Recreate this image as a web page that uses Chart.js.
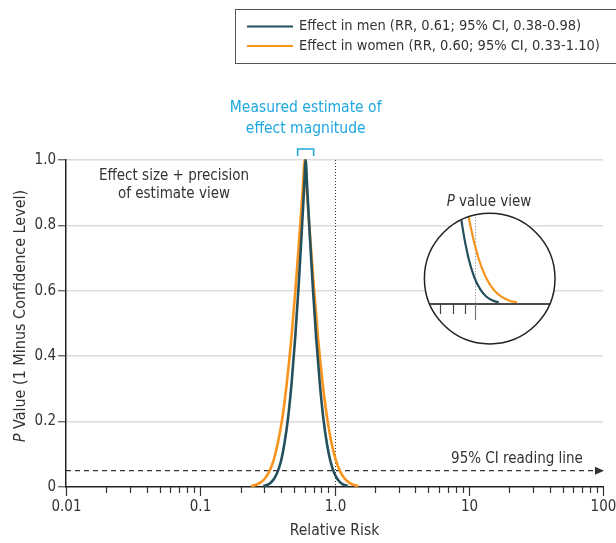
<!DOCTYPE html>
<html>
<head>
<meta charset="utf-8">
<script src="https://cdn.jsdelivr.net/npm/chart.js@4.4.1/dist/chart.umd.min.js"></script>
<style>
  html, body { margin: 0; padding: 0; background: #fff; }
  #wrap { position: relative; width: 616px; height: 543px; overflow: hidden; }
  #main { position: absolute; left: 0; top: 0; }
  #inset { position: absolute; left: 422px; top: 211px; }
</style>
</head>
<body>
<div id="wrap">
  <canvas id="main" width="616" height="543"></canvas>
  <canvas id="inset" width="136" height="136"></canvas>
</div>
<script>
// relative risk (x) and P value (y)
const menRR = [0.295, 0.314, 0.333, 0.354, 0.376, 0.400, 0.424, 0.451, 0.479, 0.509, 0.541, 0.574, 0.595, 0.610,
  0.625, 0.648, 0.688, 0.731, 0.777, 0.825, 0.877, 0.931, 0.989, 1.051, 1.116, 1.186, 1.260];
const menP = [0.0027, 0.0060, 0.0124, 0.0244, 0.0455, 0.0801, 0.1336, 0.2113, 0.3173, 0.4533, 0.6171, 0.8026, 0.9203, 1.0,
  0.9203, 0.8026, 0.6171, 0.4533, 0.3173, 0.2113, 0.1336, 0.0801, 0.0455, 0.0244, 0.0124, 0.0060, 0.0027];
const womenRR = [0.239, 0.258, 0.278, 0.301, 0.325, 0.351, 0.378, 0.409, 0.441, 0.477, 0.515, 0.556, 0.582, 0.600,
  0.619, 0.648, 0.700, 0.755, 0.816, 0.881, 0.951, 1.027, 1.109, 1.197, 1.293, 1.396, 1.508];
const womenP = [0.0027, 0.0060, 0.0124, 0.0244, 0.0455, 0.0801, 0.1336, 0.2113, 0.3173, 0.4533, 0.6171, 0.8026, 0.9203, 1.0,
  0.9203, 0.8026, 0.6171, 0.4533, 0.3173, 0.2113, 0.1336, 0.0801, 0.0455, 0.0244, 0.0124, 0.0060, 0.0027];

const legendLabels = ['Effect in men (RR, 0.61; 95% CI, 0.38-0.98)', 'Effect in women (RR, 0.60; 95% CI, 0.33-1.10)'];
const xMajor = [0.01, 0.1, 1, 10, 100];
const xMajorLabels = ['0.01', '0.1', '1.0', '10', '100'];
const xMinorMult = [2, 3, 4, 5, 6, 7, 8, 9];
const yTicks = [0, 0.2, 0.4, 0.6, 0.8, 1.0];
const readingP = 0.05;
const nullRR = 1;
const estimateRR = 0.61;
const insetTicks = [0.7, 0.8, 0.9, 1.0];

const FONT = '"DejaVu Sans Condensed", "DejaVu Sans", sans-serif';
const TEAL = '#24505e', ORANGE = '#f7941d', CYAN = '#1fa8e0', INK = '#333';
Chart.defaults.font.family = FONT;
Chart.defaults.color = INK;

const toPts = (xs, ys) => xs.map((x, i) => ({ x, y: ys[i] }));
const curves = (w) => [
  { label: legendLabels[0], data: toPts(menRR, menP), borderColor: TEAL, borderWidth: w,
    pointRadius: 0, cubicInterpolationMode: 'monotone', clip: false },
  { label: legendLabels[1], data: toPts(womenRR, womenP), borderColor: ORANGE, borderWidth: w,
    pointRadius: 0, cubicInterpolationMode: 'monotone', clip: false }
];

function mixedText(ctx, parts, cx, cy, size) {
  // parts: [[text, italic], ...] drawn centred on cx
  let total = 0;
  parts.forEach(p => { ctx.font = (p[1] ? 'italic ' : '') + size + 'px ' + FONT; total += ctx.measureText(p[0]).width; });
  let x = cx - total / 2;
  ctx.textAlign = 'left';
  parts.forEach(p => {
    ctx.font = (p[1] ? 'italic ' : '') + size + 'px ' + FONT;
    ctx.fillText(p[0], x, cy);
    x += ctx.measureText(p[0]).width;
  });
}

const decor = {
  id: 'decor',
  beforeDatasetsDraw(chart) {
    const { ctx, chartArea: a, scales: { x, y } } = chart;
    ctx.save();
    const xn = Math.round(x.getPixelForValue(nullRR)) + 0.5;
    ctx.strokeStyle = INK; ctx.lineWidth = 1; ctx.setLineDash([1, 2]);
    ctx.beginPath(); ctx.moveTo(xn, a.top); ctx.lineTo(xn, a.bottom); ctx.stroke();

    const yr = y.getPixelForValue(readingP);
    ctx.setLineDash([5, 4]); ctx.lineWidth = 1.4;
    ctx.beginPath(); ctx.moveTo(a.left, yr); ctx.lineTo(a.right - 7, yr); ctx.stroke();
    ctx.setLineDash([]);
    ctx.fillStyle = INK;
    ctx.beginPath(); ctx.moveTo(a.right + 1, yr); ctx.lineTo(a.right - 8, yr - 4); ctx.lineTo(a.right - 8, yr + 4);
    ctx.closePath(); ctx.fill();
    ctx.restore();
  },
  afterDraw(chart) {
    const { ctx, chartArea: a, scales: { x, y } } = chart;
    ctx.save();
    ctx.fillStyle = INK; ctx.textBaseline = 'middle';

    // x ticks and labels
    ctx.strokeStyle = INK; ctx.lineWidth = 1.2;
    xMajor.forEach((d, i) => {
      const px = Math.round(x.getPixelForValue(d)) + 0.5;
      ctx.beginPath(); ctx.moveTo(px, a.bottom); ctx.lineTo(px, a.bottom + 9); ctx.stroke();
      if (i < xMajor.length - 1) {
        xMinorMult.forEach(m => {
          const q = Math.round(x.getPixelForValue(d * m)) + 0.5;
          ctx.beginPath(); ctx.moveTo(q, a.bottom); ctx.lineTo(q, a.bottom + 6); ctx.stroke();
        });
      }
      ctx.font = '15px ' + FONT; ctx.textAlign = 'center';
      ctx.fillText(xMajorLabels[i], px, a.bottom + 20);
    });

    // axis titles
    ctx.font = '15.5px ' + FONT; ctx.textAlign = 'center';
    ctx.fillText('Relative Risk', (a.left + a.right) / 2, 531);
    ctx.save();
    ctx.translate(21, 316); ctx.rotate(-Math.PI / 2);
    mixedText(ctx, [['P', true], [' Value (1 Minus Confidence Level)', false]], 0, 0, 16);
    ctx.restore();

    // legend box
    ctx.strokeStyle = '#555'; ctx.lineWidth = 1;
    ctx.strokeRect(235.5, 9.5, 400, 54);
    [[TEAL, 26.5], [ORANGE, 46]].forEach((s, i) => {
      ctx.strokeStyle = s[0]; ctx.lineWidth = 2;
      ctx.beginPath(); ctx.moveTo(247, s[1]); ctx.lineTo(293, s[1]); ctx.stroke();
      ctx.font = '14.5px ' + FONT; ctx.textAlign = 'left'; ctx.fillStyle = INK;
      ctx.fillText(legendLabels[i], 299, s[1]);
    });

    // measured estimate annotation
    const xe = x.getPixelForValue(estimateRR);
    ctx.fillStyle = CYAN; ctx.font = '15.5px ' + FONT; ctx.textAlign = 'center';
    ctx.fillText('Measured estimate of', xe, 108);
    ctx.fillText('effect magnitude', xe, 129);
    ctx.strokeStyle = CYAN; ctx.lineWidth = 1.6;
    ctx.beginPath(); ctx.moveTo(xe - 8, a.top - 4); ctx.lineTo(xe - 8, a.top - 11);
    ctx.lineTo(xe + 8, a.top - 11); ctx.lineTo(xe + 8, a.top - 4); ctx.stroke();

    // view labels
    ctx.fillStyle = INK; ctx.font = '15px ' + FONT;
    ctx.fillText('Effect size + precision', 174, 176);
    ctx.fillText('of estimate view', 174, 194);
    mixedText(ctx, [['P', true], [' value view', false]], 489, 202, 15);
    ctx.textAlign = 'center'; ctx.font = '15px ' + FONT;
    ctx.fillText('95% CI reading line', 517, 459);
    ctx.restore();
  }
};

new Chart(document.getElementById('main'), {
  type: 'line',
  data: { datasets: curves(2.6) },
  options: {
    responsive: false, animation: false, parsing: true,
    layout: { padding: { top: 160, right: 13, left: 0, bottom: 0 } },
    plugins: { legend: { display: false }, tooltip: { enabled: false } },
    scales: {
      x: {
        type: 'logarithmic', min: 0.01, max: 100,
        grid: { display: false },
        border: { display: true, color: '#222', width: 1.5 },
        ticks: { display: false },
        afterFit: s => { s.height = 56; }
      },
      y: {
        min: 0, max: 1,
        afterBuildTicks: s => { s.ticks = yTicks.map(v => ({ value: v })); },
        grid: {
          color: c => (c.tick && c.tick.value === 0) ? 'rgba(0,0,0,0)' : '#dcdcdc',
          lineWidth: 1.5, tickLength: 8, tickColor: '#555', tickWidth: 1.2
        },
        border: { display: true, color: '#222', width: 1.5 },
        ticks: {
          padding: 2, font: { size: 15 }, color: INK,
          callback: v => v === 0 ? '0' : v.toFixed(1)
        },
        afterFit: s => { s.width = 66; }
      }
    }
  },
  plugins: [decor]
});

// magnified P value view
const CX = 67.7, CY = 67.6, R = 65.3;
const lens = {
  id: 'lens',
  beforeDatasetsDraw(chart) {
    const { ctx, scales: { x, y } } = chart;
    ctx.save();
    ctx.beginPath(); ctx.arc(CX, CY, R, 0, Math.PI * 2);
    ctx.fillStyle = '#fff'; ctx.fill(); ctx.clip();
    const xn = Math.round(x.getPixelForValue(nullRR)) + 0.5, y0 = y.getPixelForValue(0);
    ctx.strokeStyle = '#777'; ctx.lineWidth = 1; ctx.setLineDash([1, 2]);
    ctx.beginPath(); ctx.moveTo(xn, CY - R + 4); ctx.lineTo(xn, y0); ctx.stroke();
    ctx.setLineDash([]);
  },
  afterDatasetsDraw(chart) {
    const { ctx, scales: { x, y } } = chart;
    ctx.restore();
    ctx.save();
    const y0 = y.getPixelForValue(0);
    const half = Math.sqrt(R * R - (y0 - CY) * (y0 - CY));
    ctx.strokeStyle = '#111'; ctx.lineWidth = 1.5;
    ctx.beginPath(); ctx.moveTo(CX - half, y0); ctx.lineTo(CX + half, y0); ctx.stroke();
    insetTicks.forEach(v => {
      const px = Math.round(x.getPixelForValue(v)) + 0.5;
      const isNull = v === nullRR;
      ctx.strokeStyle = isNull ? '#777' : '#444'; ctx.lineWidth = 1.2;
      ctx.beginPath(); ctx.moveTo(px, y0); ctx.lineTo(px, y0 + (isNull ? 16 : 10)); ctx.stroke();
    });
    ctx.strokeStyle = '#222'; ctx.lineWidth = 1.5;
    ctx.beginPath(); ctx.arc(CX, CY, R, 0, Math.PI * 2); ctx.stroke();
    ctx.restore();
  }
};

new Chart(document.getElementById('inset'), {
  type: 'line',
  data: { datasets: curves(2.2) },
  options: {
    responsive: false, animation: false,
    layout: { padding: { left: 2, right: 3, top: 2, bottom: 43 } },
    plugins: { legend: { display: false }, tooltip: { enabled: false } },
    scales: {
      x: { type: 'logarithmic', min: 0.611, max: 2.204, display: false },
      y: { min: 0, max: 0.155, display: false }
    }
  },
  plugins: [lens]
});
</script>
</body>
</html>
